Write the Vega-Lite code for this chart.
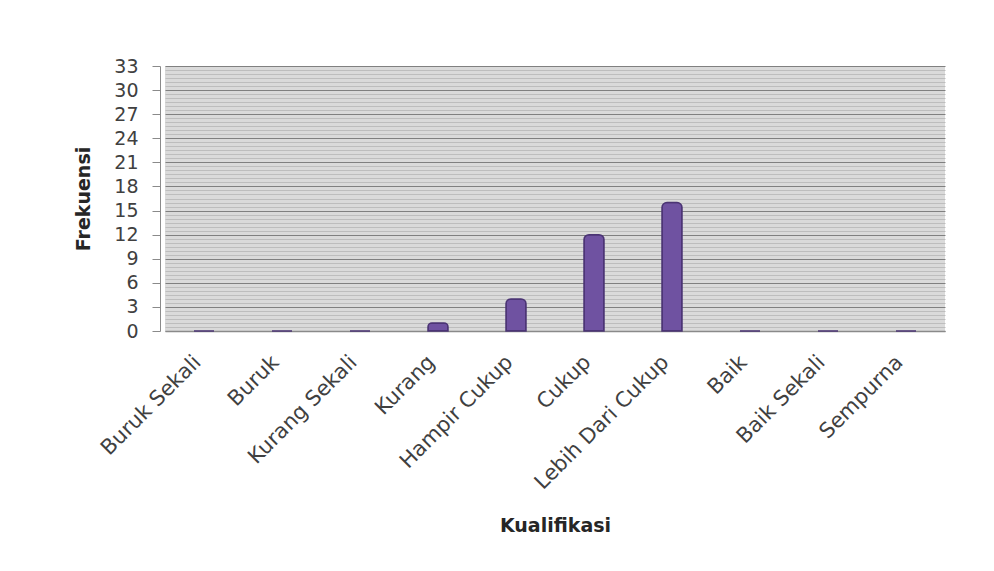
{
  "$schema": "https://vega.github.io/schema/vega-lite/v6.json",
  "width": 780,
  "height": 265,
  "autosize": {"type": "none"},
  "padding": {"left": 165, "top": 66, "right": 49, "bottom": 240},
  "background": "white",
  "config": {
    "view": {"fill": "#dadada", "stroke": null},
    "font": "DejaVu Sans"
  },
  "data": {
    "values": [
      {"Kualifikasi": "Buruk Sekali", "Frekuensi": 0},
      {"Kualifikasi": "Buruk", "Frekuensi": 0},
      {"Kualifikasi": "Kurang Sekali", "Frekuensi": 0},
      {"Kualifikasi": "Kurang", "Frekuensi": 1},
      {"Kualifikasi": "Hampir Cukup", "Frekuensi": 4},
      {"Kualifikasi": "Cukup", "Frekuensi": 12},
      {"Kualifikasi": "Lebih Dari Cukup", "Frekuensi": 16},
      {"Kualifikasi": "Baik", "Frekuensi": 0},
      {"Kualifikasi": "Baik Sekali", "Frekuensi": 0},
      {"Kualifikasi": "Sempurna", "Frekuensi": 0}
    ]
  },
  "resolve": {"axis": {"y": "independent"}},
  "layer": [
    {
      "mark": {"type": "bar", "opacity": 0},
      "encoding": {
        "x": {
          "field": "Kualifikasi",
          "type": "nominal",
          "sort": null,
          "scale": {"paddingInner": 0.7, "paddingOuter": 0.35},
          "axis": {
            "title": "Kualifikasi",
            "titleFontSize": 19,
            "titleFontWeight": "bold",
            "titleColor": "#262626",
            "titlePadding": 24,
            "labelAngle": -45,
            "labelFontSize": 21,
            "labelColor": "#404040",
            "labelPadding": 20,
            "labelOffset": -14,
            "ticks": false,
            "domainColor": "#8a8a8a",
            "domainWidth": 1.5,
            "grid": false
          }
        },
        "y": {
          "field": "Frekuensi",
          "type": "quantitative",
          "scale": {"domain": [0, 33], "nice": false},
          "axis": {
            "orient": "left",
            "values": [0.5,1,1.5,2,2.5,3.5,4,4.5,5,5.5,6.5,7,7.5,8,8.5,9.5,10,10.5,11,11.5,12.5,13,13.5,14,14.5,15.5,16,16.5,17,17.5,18.5,19,19.5,20,20.5,21.5,22,22.5,23,23.5,24.5,25,25.5,26,26.5,27.5,28,28.5,29,29.5,30.5,31,31.5,32,32.5],
            "grid": true,
            "gridColor": "#bdbdbd",
            "gridWidth": 1,
            "labels": false,
            "ticks": false,
            "domain": false,
            "title": null
          }
        }
      }
    },
    {
      "mark": {"type": "bar", "size": 20, "color": "#6f52a1", "stroke": "#4b3474", "strokeWidth": 1.5, "cornerRadiusTopLeft": 5, "cornerRadiusTopRight": 5},
      "encoding": {
        "x": {
          "field": "Kualifikasi",
          "type": "nominal",
          "sort": null,
          "scale": {"paddingInner": 0.7, "paddingOuter": 0.35},
          "axis": {
            "title": "Kualifikasi",
            "titleFontSize": 19,
            "titleFontWeight": "bold",
            "titleColor": "#262626",
            "titlePadding": 24,
            "labelAngle": -45,
            "labelFontSize": 21,
            "labelColor": "#404040",
            "labelPadding": 20,
            "labelOffset": -14,
            "ticks": false,
            "domainColor": "#8a8a8a",
            "domainWidth": 1.5,
            "grid": false
          }
        },
        "y": {
          "field": "Frekuensi",
          "type": "quantitative",
          "scale": {"domain": [0, 33], "nice": false},
          "axis": {
            "orient": "left",
            "values": [0,3,6,9,12,15,18,21,24,27,30,33],
            "title": "Frekuensi",
            "titleFontSize": 19,
            "titleFontWeight": "bold",
            "titleColor": "#262626",
            "titlePadding": 20,
            "labelFontSize": 19,
            "labelColor": "#404040",
            "labelPadding": 14,
            "offset": 5,
            "tickSize": 8,
            "tickColor": "#8a8a8a",
            "domainColor": "#8a8a8a",
            "grid": true,
            "gridColor": "#808080",
            "gridWidth": 1.2
          }
        }
      }
    }
  ]
}
